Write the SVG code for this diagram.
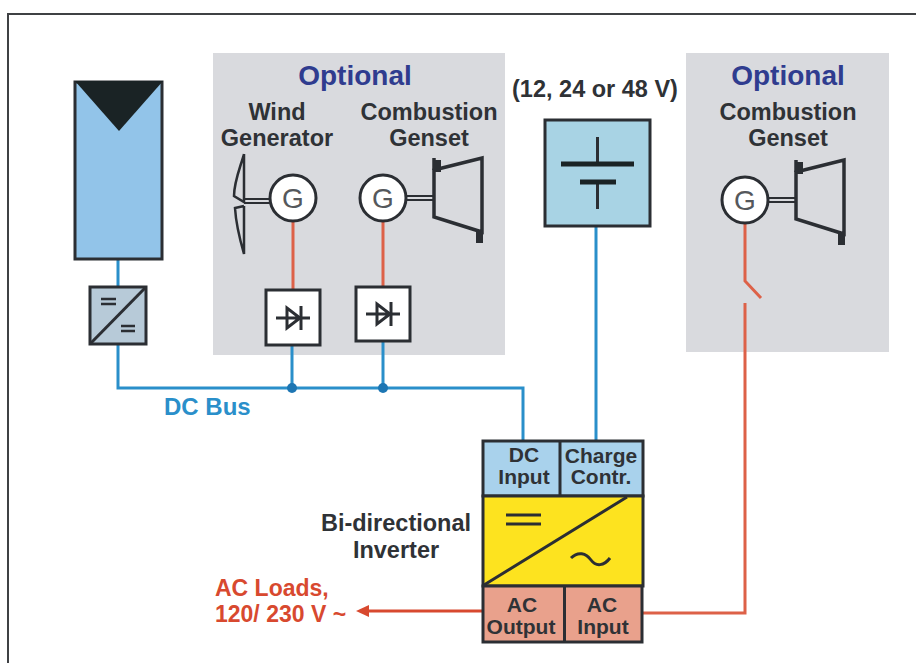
<svg xmlns="http://www.w3.org/2000/svg" width="916" height="663" viewBox="0 0 916 663">
<style>
text{font-family:"Liberation Sans",Arial,sans-serif;font-weight:700;text-anchor:middle;fill:#2f3236;font-size:23.500px}
.opt{fill:#2f3c8f;font-size:28px}
.red{fill:#d8492f;text-anchor:start;font-size:23px}
.dc{fill:#2a8fca;text-anchor:start;font-size:24px}
.inv{font-size:21px}
.box{stroke:#2b2e33;stroke-width:3}
.ln{fill:none;stroke:#2b2e33;stroke-width:3}
.thin{fill:none;stroke:#2b2e33;stroke-width:2}
.blue{fill:none;stroke:#2a8fca;stroke-width:3}
.orange{fill:none;stroke:#dd6148;stroke-width:3}
.gray{fill:#d9dade}
.gc{fill:#fff;stroke:#2b2e33;stroke-width:3}
.gt{font-weight:400;font-size:28px;fill:#55585c}
</style>
<defs>
<marker id="ah" markerUnits="userSpaceOnUse" markerWidth="15" markerHeight="14" refX="1" refY="7" orient="auto"><path d="M14 7L1 1V13Z" fill="#d8492f"/></marker>
<g id="engine"><path d="M0 10L48 -2V72L0 57Z" fill="none" stroke="#2b2e33" stroke-width="3.500"/><path d="M0 10V-2" stroke="#2b2e33" stroke-width="3.500"/><rect x="0" y="0" width="7" height="12" fill="#2b2e33"/><rect x="42" y="71" width="7" height="12" fill="#2b2e33"/></g>
<g id="diode"><path d="M-17 0H17M-6 -10V10L7 0Z" class="ln" stroke-width="2.500"/><path d="M8 -12V12" class="ln"/></g>
</defs>
<path id="frame" d="M8 663V14H916" fill="none" stroke="#3f4144" stroke-width="2"/>

<g id="opt1-bg"><rect class="gray" x="213" y="53" width="292" height="302"/></g>
<g id="opt2-bg"><rect class="gray" x="686" y="53" width="203" height="299"/></g>

<g id="connectors">
<path class="blue" d="M118 259V287M118 344V388H523V441M292 345V388M383 341V388M596 226V441"/>
<path class="orange" d="M293 222V290M383 222V287M745 223V281L761 298M745 303V613H642"/>
<path d="M482 611H369" fill="none" stroke="#d8492f" stroke-width="3" marker-end="url(#ah)"/>
<circle cx="292" cy="388" r="5" fill="#1d76b3"/><circle cx="383" cy="388" r="5" fill="#1d76b3"/>
</g>

<g id="pv-panel"><rect class="box" x="75" y="82" width="87" height="177" fill="#92c4e9"/><path d="M75 81H163L119 131Z" fill="#1a2325"/></g>
<g id="dc-dc-converter"><rect class="box" x="90" y="287" width="56" height="57" fill="#b7cad8"/><path class="ln" d="M90 344L146 287"/><path fill="none" stroke="#2b2e33" stroke-width="2.500" d="M101 299H116M101 304H116M121 326H135M121 331H135"/></g>

<g id="opt1-labels"><text class="opt" x="355" y="85">Optional</text><text x="277"><tspan x="277" y="120">Wind</tspan><tspan x="277" y="146">Generator</tspan></text><text x="429"><tspan x="429" y="120">Combustion</tspan><tspan x="429" y="146">Genset</tspan></text></g>

<g id="wind-generator">
<path fill="none" stroke="#2b2e33" stroke-width="2.500" d="M244 154C240 168 234 182 234 196L244 202V154M244 206L235 208C236 225 240 240 244 254V206"/>
<path class="thin" d="M244 199H270M244 203H270"/>
<circle class="gc" cx="293" cy="198" r="23"/><text class="gt" x="293" y="208">G</text>
</g>
<g id="combustion-genset-1">
<path class="thin" d="M406 196H434M406 200H434"/>
<circle class="gc" cx="383" cy="198" r="23"/><text class="gt" x="383" y="208">G</text>
<use href="#engine" x="434" y="160"/>
</g>
<g id="rectifier-1"><rect class="box" x="266" y="290" width="54" height="55" fill="#fff"/><use href="#diode" x="293" y="318"/></g>
<g id="rectifier-2"><rect class="box" x="356" y="287" width="54" height="54" fill="#fff"/><use href="#diode" x="383" y="314"/></g>

<g id="battery"><text x="595" y="97">(12, 24 or 48 V)</text><rect class="box" x="545" y="120" width="105" height="106" fill="#a8d3e4"/><path class="ln" d="M597.500 137V164M597.500 182V209"/><path d="M561 164H634M580 182H616" fill="none" stroke="#1a2325" stroke-width="5"/></g>

<g id="opt2-labels"><text class="opt" x="788" y="85">Optional</text><text x="788"><tspan x="788" y="120">Combustion</tspan><tspan x="788" y="146">Genset</tspan></text></g>
<g id="combustion-genset-2">
<path class="thin" d="M768 198H797M768 202H797"/>
<circle class="gc" cx="745" cy="200" r="23"/><text class="gt" x="745" y="210">G</text>
<use href="#engine" x="796" y="162"/>
</g>

<g id="inverter">
<rect class="box" x="483" y="441" width="160" height="55" fill="#a9d2ec"/>
<rect class="box" x="483" y="496" width="160" height="90" fill="#fde31f"/>
<rect class="box" x="483" y="586" width="159" height="56" fill="#e9a18c"/>
<path class="ln" d="M560 441V496M564.500 586V642M484 585L627 497"/>
<path class="ln" d="M506 515H541M506 524H541"/>
<path class="ln" d="M571 558C578 551 586 553 591 560C596 567 604 566 610 558"/>
<text class="inv"><tspan x="524" y="462">DC</tspan><tspan x="524" y="484">Input</tspan></text>
<text class="inv"><tspan x="601" y="463">Charge</tspan><tspan x="601" y="484">Contr.</tspan></text>
<text class="inv"><tspan x="522" y="612">AC</tspan><tspan x="521" y="634">Output</tspan></text>
<text class="inv"><tspan x="602" y="612">AC</tspan><tspan x="603" y="634">Input</tspan></text>
</g>
<g id="labels">
<text><tspan x="396" y="531">Bi-directional</tspan><tspan x="396" y="558">Inverter</tspan></text>
<text class="dc" x="164" y="415">DC Bus</text>
<text class="red"><tspan x="215" y="596">AC Loads,</tspan><tspan x="215" y="622">120/ 230 V ~</tspan></text>
</g>
</svg>
